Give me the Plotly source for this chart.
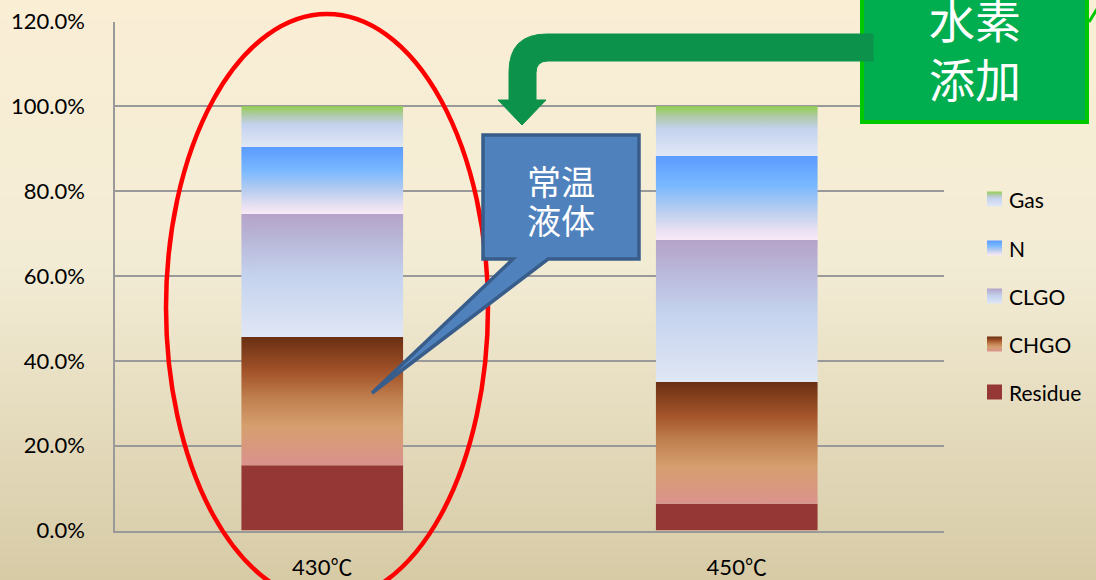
import base64
import struct
import zlib

import plotly.graph_objects as go

# ---- data -------------------------------------------------------------
temps = ["430℃", "450℃"]
residue = [15.4, 6.3]
chgo = [30.2, 28.7]
clgo = [29.0, 33.5]
n_frac = [15.8, 19.8]
gas = [9.6, 11.7]
y_ticks = [0, 20, 40, 60, 80, 100, 120]

series_names = ["Residue", "CHGO", "CLGO", "N", "Gas"]
series_values = [residue, chgo, clgo, n_frac, gas]

# vertical colour ramps, bottom (0) to top (1)
ramps = {
    "Residue": [[0, "#953735"], [1, "#953735"]],
    "CHGO": [[0, "#da928d"], [0.3, "#d69f6f"], [0.52, "#c0804f"],
             [0.72, "#a5552b"], [1, "#6a2f12"]],
    "CLGO": [[0, "#e0e7f5"], [0.5, "#c4d2ee"], [0.8, "#b9b6d8"], [1, "#b5a3c9"]],
    "N": [[0, "#f8eaf8"], [0.12, "#e8e0f2"], [0.35, "#b8cdef"],
          [0.65, "#79b8ff"], [1, "#5b9bff"]],
    "Gas": [[0, "#e0e8f5"], [0.55, "#c4d2ee"], [0.8, "#aec9a4"], [1, "#92d050"]],
}

W, H = 1096, 580
BAR_W = 0.39
FONT = "Lato, 'Noto Sans CJK JP', sans-serif"
CJK = "'Noto Sans CJK JP', sans-serif"


def gradient_png(stops, height):
    """1-pixel-wide vertical gradient PNG as a data URI (t=0 at the top)."""
    rows = bytearray()
    for i in range(height):
        t = i / (height - 1)
        for (t0, c0), (t1, c1) in zip(stops[:-1], stops[1:]):
            if t0 <= t <= t1:
                f = (t - t0) / (t1 - t0) if t1 > t0 else 0
                rgb = [round(a + (b - a) * f) for a, b in zip(c0, c1)]
                break
        rows += b"\x00" + bytes(rgb)

    def chunk(tag, data):
        body = tag + data
        return struct.pack(">I", len(data)) + body + struct.pack(">I", zlib.crc32(body) & 0xFFFFFFFF)

    ihdr = struct.pack(">IIBBBBB", 1, height, 8, 2, 0, 0, 0)
    png = (b"\x89PNG\r\n\x1a\n" + chunk(b"IHDR", ihdr)
           + chunk(b"IDAT", zlib.compress(bytes(rows))) + chunk(b"IEND", b""))
    return "data:image/png;base64," + base64.b64encode(png).decode()


background = gradient_png(
    [(0.0, (250, 238, 213)), (0.45, (243, 236, 213)), (1.0, (215, 203, 166))], H)

fig = go.Figure()

# ---- stacked bars with gradient fills -----------------------------------
for i, temp in enumerate(temps):
    base = 0.0
    for name, vals in zip(series_names, series_values):
        top = base + vals[i]
        x0, x1 = i - BAR_W / 2, i + BAR_W / 2
        fig.add_trace(go.Scatter(
            x=[x0, x1, x1, x0, x0], y=[base, base, top, top, base],
            mode="none", fill="toself",
            fillcolor=ramps[name][-1][1],
            fillgradient=dict(type="vertical", colorscale=ramps[name]),
            name=name, showlegend=False, hoverinfo="skip",
            xaxis="x", yaxis="y"))
        base = top

# ---- legend (gradient swatches on the pixel overlay) ---------------------
leg_x, leg_size = 987, 15
leg_y = {"Gas": 199, "N": 248, "CLGO": 296, "CHGO": 344, "Residue": 392}
annotations = []
for name in series_names:
    cy = leg_y[name]
    y0, y1 = cy + leg_size / 2, cy - leg_size / 2
    fig.add_trace(go.Scatter(
        x=[leg_x, leg_x + leg_size, leg_x + leg_size, leg_x, leg_x],
        y=[y0, y0, y1, y1, y0],
        mode="none", fill="toself", fillcolor=ramps[name][-1][1],
        fillgradient=dict(type="vertical", colorscale=ramps[name]),
        showlegend=False, hoverinfo="skip", xaxis="x2", yaxis="y2"))
    annotations.append(dict(
        x=1007, y=cy, xref="x2", yref="y2", text=name, showarrow=False,
        xanchor="left", yanchor="middle", font=dict(family=FONT, size=21, color="#000000")))

# ---- callouts and highlight ---------------------------------------------
shapes = [
    # red ellipse around the 430℃ column
    dict(type="circle", xref="x2", yref="y2", x0=166, x1=488, y0=14, y1=601,
         line=dict(color="#ff0000", width=4.5), layer="above"),
    # blue speech bubble
    dict(type="path", xref="x2", yref="y2",
         path="M 483,135 L 639,135 L 639,259 L 548,259 L 372,393 L 513,259 L 483,259 Z",
         fillcolor="#4f81bd", line=dict(color="#385d8a", width=3.5), layer="above"),
    # green label box
    dict(type="rect", xref="x2", yref="y2", x0=862, x1=1087, y0=-10, y1=122,
         fillcolor="#00ad4f", line=dict(color="#00c800", width=4), layer="above"),
    # bent arrow from the green box
    dict(type="path", xref="x2", yref="y2",
         path=("M 873,34 L 547,34 Q 509,34 509,72 L 509,100 L 498,100 L 522,125 "
               "L 546,100 L 536,100 L 536,73 Q 536,61 548,61 L 873,61 Z"),
         fillcolor="#0c924a", line=dict(color="#0c924a", width=1), layer="above"),
    dict(type="line", xref="x2", yref="y2", x0=1089, y0=22, x1=1097, y1=9,
         line=dict(color="#00c800", width=3), layer="above"),
]

# callout texts, one annotation per line
for text, x, y, size in [("常温", 561, 180, 34), ("液体", 561, 219, 34),
                         ("水素", 975, 18, 46), ("添加", 975, 77, 46)]:
    annotations.append(dict(
        x=x, y=y, xref="x2", yref="y2", text=text, showarrow=False,
        xanchor="center", yanchor="middle",
        font=dict(family=CJK, size=size, color="#ffffff")))

grid_col = "#999999"
fig.update_layout(
    width=W, height=H,
    margin=dict(l=0, r=0, t=0, b=0, autoexpand=False),
    paper_bgcolor="#f5ecd5",
    plot_bgcolor="rgba(0,0,0,0)",
    showlegend=False,
    images=[dict(source=background, xref="paper", yref="paper", x=0, y=1,
                 sizex=1, sizey=1, xanchor="left", yanchor="top",
                 sizing="stretch", layer="below")],
    xaxis=dict(domain=[115 / W, 944 / W], range=[-0.5, 1.5], automargin=False,
               tickvals=[0, 1], ticktext=temps, ticks="",
               showgrid=False, zeroline=False, showline=True,
               linecolor=grid_col, linewidth=1.5, ticklabelstandoff=16,
               tickfont=dict(family=FONT, size=22, color="#000000"), fixedrange=True),
    yaxis=dict(domain=[(H - 530.5) / H, (H - 21.5) / H], range=[0, 120], automargin=False,
               tickvals=y_ticks, ticktext=[f"{v:.1f}%" for v in y_ticks], ticks="",
               showgrid=True, gridcolor=grid_col, gridwidth=1.5, zeroline=False,
               showline=True, linecolor=grid_col, linewidth=1.5,
               ticklabelstandoff=24,
               tickfont=dict(family=FONT, size=22, color="#000000"), fixedrange=True),
    xaxis2=dict(domain=[0, 1], range=[0, W], visible=False, anchor="y2",
                automargin=False, fixedrange=True),
    yaxis2=dict(domain=[0, 1], range=[H, 0], visible=False, anchor="x2",
                automargin=False, fixedrange=True),
    shapes=shapes,
    annotations=annotations,
)

fig.write_html("out.html")
